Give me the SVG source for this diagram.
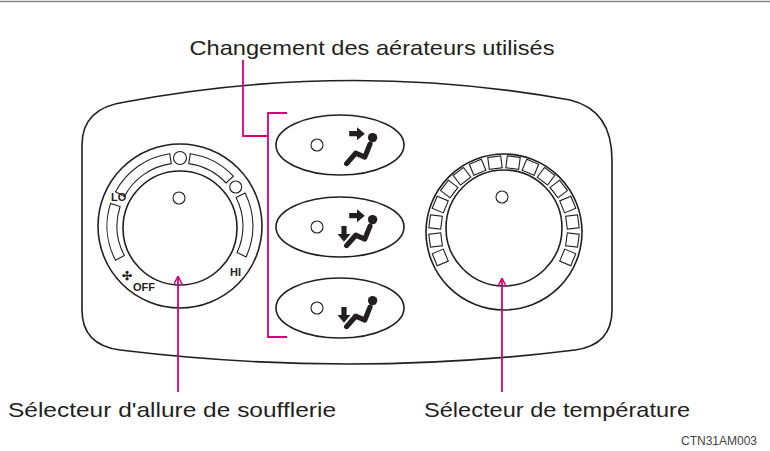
<svg xmlns="http://www.w3.org/2000/svg" width="770" height="451" viewBox="0 0 770 451">
<style>
.o{fill:none;stroke:#231f20;stroke-width:1.6}
.t{fill:none;stroke:#231f20;stroke-width:1.1}
.m{fill:none;stroke:#d6007a;stroke-width:1.8}
.lab{font-family:"Liberation Sans",Arial,sans-serif;font-size:21px;fill:#231f20}
.sm{font-family:"Liberation Sans",Arial,sans-serif;font-size:11px;font-weight:bold;fill:#231f20}
</style>
<defs>
<marker id="ah" viewBox="0 0 10 10" refX="9" refY="5" markerWidth="9" markerHeight="9" orient="auto-start-reverse" markerUnits="userSpaceOnUse"><path d="M0,0 L10,5 L0,10" fill="none" stroke="#d6007a" stroke-width="1.6"/></marker>
<g id="person"><circle cx="12" cy="-8" r="3.6" fill="#231f20"/><path d="M-8,12 L-1,4 L6,7 L10,-3" fill="none" stroke="#231f20" stroke-width="4" stroke-linejoin="round" stroke-linecap="round"/></g>
<path id="arR" d="M-6,-13 h6 v-3 l6,5 l-6,5 v-3 h-6z" fill="#231f20"/>
<path id="arD" d="M-12,-3 v6 h-3 l5,6 l5,-6 h-3 v-6z" fill="#231f20"/>
<rect id="seg" x="-6.5" y="-75" width="13" height="12" fill="#fff" stroke="#231f20" stroke-width="1.1"/>
</defs>
<line x1="0" y1="1.5" x2="770" y2="1.5" stroke="#888" stroke-width="1.5"/>
<g id="panel"><path class="o" d="M125 102 Q 350 60 570 100 Q 612 110 612 160 L 612 310 Q 612 345 575 350 Q 350 378 120 350 Q 82 345 82 310 L 82 145 Q 82 108 125 102 Z"/></g>
<g id="fan-dial">
<circle class="o" cx="180" cy="226" r="82"/>
<circle class="o" cx="180" cy="228" r="57"/>
<circle class="t" cx="179" cy="198" r="6"/>
<path class="t" d="M124.4,255.6 A63 63 0 0 1 120.1,206.5 L110.6,203.4 A73 73 0 0 0 115.5,260.2 Z"/>
<path class="t" d="M124.4,196.4 A63 63 0 0 1 171.2,163.6 L169.8,153.7 A73 73 0 0 0 115.5,191.8 Z"/>
<path class="t" d="M188.8,163.6 A63 63 0 0 1 226.1,183.0 L233.4,176.2 A73 73 0 0 0 190.2,153.7 Z"/>
<path class="t" d="M236.1,197.4 A63 63 0 0 1 237.1,252.6 L246.1,256.9 A73 73 0 0 0 245.0,192.9 Z"/>
<circle class="t" cx="180" cy="158" r="6.5"/>
<circle class="t" cx="235.7" cy="187" r="6"/>
<text class="sm" x="111" y="201">LO</text>
<text class="sm" x="230" y="276">HI</text>
<text class="sm" x="133" y="291">OFF</text>
<text class="sm" x="122" y="280" style="font-size:12px">✣</text>
</g>
<g id="temp-dial">
<circle class="o" cx="504" cy="232" r="78"/>
<circle class="o" cx="504" cy="228" r="58"/>
<circle class="t" cx="502" cy="197" r="6"/>
<g transform="translate(504,231)">
<use href="#seg" transform="rotate(-112.5)"/><use href="#seg" transform="rotate(-97.5)"/><use href="#seg" transform="rotate(-82.5)"/><use href="#seg" transform="rotate(-67.5)"/><use href="#seg" transform="rotate(-52.5)"/><use href="#seg" transform="rotate(-37.5)"/><use href="#seg" transform="rotate(-22.5)"/><use href="#seg" transform="rotate(-7.5)"/><use href="#seg" transform="rotate(7.5)"/><use href="#seg" transform="rotate(22.5)"/><use href="#seg" transform="rotate(37.5)"/><use href="#seg" transform="rotate(52.5)"/><use href="#seg" transform="rotate(67.5)"/><use href="#seg" transform="rotate(82.5)"/><use href="#seg" transform="rotate(97.5)"/><use href="#seg" transform="rotate(112.5)"/>
</g>
</g>
<g id="btn1"><ellipse class="o" cx="340" cy="145" rx="64" ry="30"/><circle class="t" cx="317" cy="145" r="6"/><g transform="translate(357,148) scale(1.3)"><use href="#person"/><use href="#arR"/></g></g>
<g id="btn2"><ellipse class="o" cx="340" cy="227" rx="64" ry="30"/><circle class="t" cx="317" cy="227" r="6"/><g transform="translate(357,230) scale(1.3)"><use href="#person"/><use href="#arR"/><use href="#arD"/></g></g>
<g id="btn3"><ellipse class="o" cx="340" cy="308" rx="64" ry="30"/><circle class="t" cx="317" cy="308" r="6"/><g transform="translate(357,311) scale(1.3)"><use href="#person"/><use href="#arD"/></g></g>
<g id="connectors">
<path class="m" d="M287,113 H268 V337 H287"/>
<path class="m" d="M243,60 V136 H268"/>
<path class="m" d="M178,392 V277" marker-end="url(#ah)"/>
<path class="m" d="M502,392 V279" marker-end="url(#ah)"/>
</g>
<text class="lab" x="372" y="55" text-anchor="middle" textLength="365" lengthAdjust="spacingAndGlyphs">Changement des aérateurs utilisés</text>
<text class="lab" x="8" y="417" textLength="328" lengthAdjust="spacingAndGlyphs">Sélecteur d'allure de soufflerie</text>
<text class="lab" x="424" y="417" textLength="266" lengthAdjust="spacingAndGlyphs">Sélecteur de température</text>
<text x="757" y="445" text-anchor="end" style="font-family:'Liberation Sans',Arial,sans-serif;font-size:12px;fill:#444">CTN31AM003</text>
</svg>
